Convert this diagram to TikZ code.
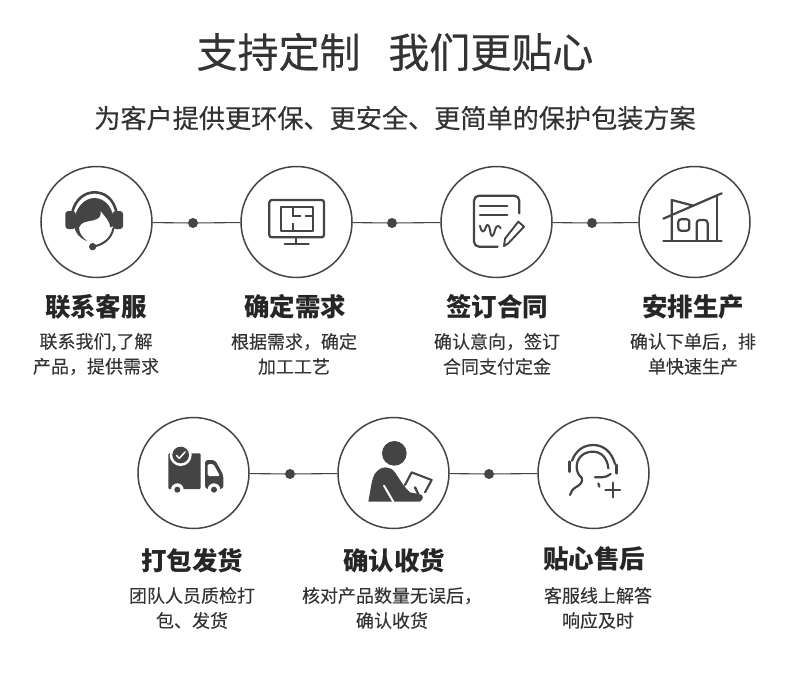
\documentclass[tikz,border=0pt]{standalone}
\usepackage{fontspec}
\setmainfont{Noto Sans CJK SC}
\newfontfamily\medfont[FakeBold=0.25]{Noto Sans CJK SC}
\newfontfamily\lightbold[FakeBold=0.12]{Noto Sans CJK SC}
\definecolor{ink}{HTML}{444444}
\definecolor{txt}{HTML}{333333}
\tikzset{
  ring/.style={circle,draw=ink,line width=1.5pt,minimum size=111pt,inner sep=0pt,fill=white},
  joint/.style={circle,fill=ink,minimum size=10pt,inner sep=0pt},
  link/.style={draw=ink,line width=1.1pt},
  titletxt/.style={text=txt,inner sep=0pt,font=\medfont\fontsize{41}{44}\selectfont},
  subtxt/.style={text=txt,inner sep=0pt,font=\medfont\fontsize{26.15}{30}\selectfont},
  headtxt/.style={text=black!85,inner sep=0pt,font=\fontsize{25.5}{28}\selectfont\bfseries},
  bodytxt/.style={text=txt,inner sep=0pt,font=\lightbold\fontsize{18}{25}\selectfont,align=center},
  zm/.style 2 args={shift={(#1,#2)},x=0.33333pt,y=-0.33333pt},
  iconl/.style={draw=ink,line width=2.2pt,line cap=round,line join=round},
  iconf/.style={fill=ink,draw=none}
}
\begin{document}
\begin{tikzpicture}[x=1pt,y=-1pt]
\path[use as bounding box,fill=white] (0,0) rectangle (790,675);
% texts
\node[titletxt] (title) at (395,52) {支持定制\hspace{0.68em}我们更贴心};
\node[subtxt] (sub) at (395,118) {为客户提供更环保、更安全、更简单的保护包装方案};
% row 1
\node[ring] (c1) at (96.5,222) {};
\node[ring] (c2) at (296.5,222) {};
\node[ring] (c3) at (496.5,222) {};
\node[ring] (c4) at (694.5,222) {};
\node[joint] (d1) at (193,223) {};
\node[joint] (d2) at (392,223) {};
\node[joint] (d3) at (592,223) {};
\draw[link] (c1) -- (d1) -- (c2);
\draw[link] (c2) -- (d2) -- (c3);
\draw[link] (c3) -- (d3) -- (c4);
% row 2
\node[ring] (c5) at (193.5,473) {};
\node[ring] (c6) at (393.5,473) {};
\node[ring] (c7) at (593.5,473) {};
\node[joint] (d4) at (290,474) {};
\node[joint] (d5) at (489,474) {};
\draw[link] (c5) -- (d4) -- (c6);
\draw[link] (c6) -- (d5) -- (c7);
% labels
\node[headtxt] (h1) at (96,307) {联系客服};
\node[headtxt] (h2) at (295,307) {确定需求};
\node[headtxt] (h3) at (497,307) {签订合同};
\node[headtxt] (h4) at (693,307) {安排生产};
\node[headtxt] (h5) at (192,561) {打包发货};
\node[headtxt] (h6) at (394,561) {确认收货};
\node[headtxt] (h7) at (594,559) {贴心售后};
\node[bodytxt] (b1) at (96,354) {联系我们,了解\\产品，提供需求};
\node[bodytxt] (b2) at (294,354) {根据需求，确定\\加工工艺};
\node[bodytxt] (b3) at (497,354) {确认意向，签订\\合同支付定金};
\node[bodytxt] (b4) at (693,354) {确认下单后，排\\单快速生产};
\node[bodytxt] (b5) at (192,608) {团队人员质检打\\包、发货};
\node[bodytxt] (b6) at (392,608) {核对产品数量无误后，\\确认收货};
\node[bodytxt] (b7) at (598,608) {客服线上解答\\响应及时};
% icon 1 headset
\begin{scope}[zm={60}{185}]
  \fill[ink,rounded corners=3pt] (16,78) rectangle (47,132);
  \fill[ink,rounded corners=3pt] (158,78) rectangle (189,132);
  \draw[ink,line width=2.6pt,line cap=round] (36,85) .. controls (45,42) and (75,22) .. (103,22) .. controls (135,22) and (162,42) .. (170,85);
  \fill[ink] (42,120) .. controls (41,68) and (75,39) .. (103,39) .. controls (135,39) and (163,68) .. (163,122)
    -- (151,127) .. controls (149,107) and (135,95) .. (122,78)
    .. controls (124,92) and (118,102) .. (100,106) .. controls (80,110) and (64,110) .. (57,127)
    .. controls (57,145) and (68,158) .. (82,169) .. controls (62,162) and (45,145) .. (42,120) -- cycle;
  \draw[ink,line width=2pt,line cap=round] (160,130) .. controls (155,160) and (130,180) .. (98,185);
  \fill[ink] (98,185) circle[radius=11];
\end{scope}
% icon 2 monitor
\begin{scope}[zm={30}{160}]
  \draw[iconl,line width=2.3pt,rounded corners=2.5pt] (718,120) rectangle (882,232);
  \draw[iconl,line width=2.3pt,line cap=butt] (752,140) rectangle (848,212);
  \draw[iconl,line cap=butt,line width=1.8pt] (790,140) -- (790,172) (790,190) -- (790,212) (790,168) -- (812,168) (826,168) -- (848,168);
  \draw[iconl] (798,232) -- (798,253);
  \draw[iconl] (764,253) -- (836,253);
\end{scope}
% icon 3 contract
\begin{scope}[zm={430}{160}]
  \draw[iconl,rounded corners=5pt] (268,160) -- (268,107) -- (132,107) -- (132,260) -- (203,260);
  \draw[iconl] (150,138) -- (232,138);
  \draw[iconl] (150,165) -- (232,165);
  \draw[iconl,line width=1.9pt] (150,197) .. controls (155,225) and (165,215) .. (168,200) .. controls (172,190) and (178,195) .. (180,210) .. controls (183,238) and (190,230) .. (195,210) .. controls (198,195) and (208,195) .. (212,205);
  \draw[iconl,line width=1.9pt] (265,185) -- (282,200) -- (235,250) -- (222,258) -- (225,236) -- cycle;
\end{scope}
% icon 4 house
\begin{scope}[zm={430}{160}]
  \draw[iconl] (700,243) -- (875,243);
  \draw[iconl] (700,176) -- (875,100);
  \draw[iconl] (725,243) -- (725,120) -- (790,137);
  \draw[iconl] (860,108) -- (860,243);
  \draw[iconl,rounded corners=2.5pt] (745,178) rectangle (778,212);
  \draw[iconl,rounded corners=3pt] (800,243) -- (800,180) -- (833,180) -- (833,243);
\end{scope}
% icon 5 truck
\begin{scope}[zm={160}{440}]
  \fill[ink,rounded corners=1pt] (25,40) rectangle (122,147);
  \fill[ink,rounded corners=3pt] (135,60) -- (165,60) -- (190,105) -- (190,147) -- (135,147) -- cycle;
  \fill[white,rounded corners=1.5pt] (143,72) -- (160,72) -- (180,108) -- (143,108) -- cycle;
  \fill[white] (62,45) circle[radius=33];
  \fill[ink] (62,45) circle[radius=25];
  \draw[white,line width=1.5pt,line cap=round,line join=round] (49,46) -- (58,55) -- (75,36);
  \fill[white] (52,149) circle[radius=19];
  \fill[ink] (52,149) circle[radius=9];
  \fill[white] (162,149) circle[radius=19];
  \fill[ink] (162,149) circle[radius=9];
\end{scope}
% icon 6 person
\begin{scope}[zm={360}{435}]
  \fill[ink] (103,55) circle[radius=37];
  \fill[ink] (25,200) .. controls (32,165) and (35,125) .. (48,112) .. controls (65,92) and (90,92) .. (105,112)
    .. controls (120,135) and (135,160) .. (150,172) -- (180,178) .. controls (190,180) and (193,190) .. (180,200) -- cycle;
  \draw[white,line width=2pt,line cap=round] (72,152) -- (100,200);
  \draw[ink,line width=2.1pt,line cap=round,line join=round] (135,150) -- (155,112) -- (215,135) -- (195,172);
  \draw[ink,line width=2.4pt,line cap=round] (165,157) -- (175,178);
\end{scope}
% icon 7 support
\begin{scope}[zm={560}{440}]
  \draw[iconl,line width=2.2pt] (36,62) .. controls (48,30) and (72,15) .. (100,15) .. controls (130,15) and (155,35) .. (165,72);
  \draw[iconl,line width=2.6pt] (28,65) -- (28,95);
  \draw[iconl,line width=2.6pt] (170,75) -- (170,100);
  \draw[iconl,line width=2.2pt] (145,85) .. controls (142,55) and (125,35) .. (98,35) .. controls (70,35) and (50,55) .. (50,80) .. controls (50,95) and (55,105) .. (65,113) .. controls (70,125) and (60,135) .. (50,140) .. controls (38,147) and (32,155) .. (30,165);
  \draw[iconl,line width=2.2pt] (105,112) -- (125,112) .. controls (135,112) and (145,108) .. (152,102);
  \draw[iconl,line width=2.2pt] (115,130) -- (118,140);
  \draw[iconl] (158,128) -- (158,172);
  \draw[iconl] (136,150) -- (180,150);
\end{scope}
\end{tikzpicture}
\end{document}
